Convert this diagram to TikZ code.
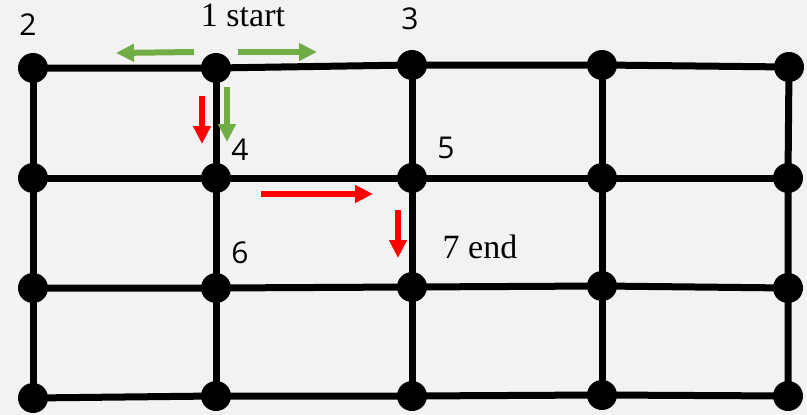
\documentclass[tikz,border=0pt]{standalone}
\usepackage{fontspec}
\setmainfont{Liberation Serif}
\newfontfamily\labelfont{Open Sans}
\usetikzlibrary{arrows.meta}

\definecolor{bggray}{HTML}{F2F2F2}
\definecolor{stepgreen}{HTML}{70AD47}
\definecolor{stepred}{HTML}{FF0000}

\begin{document}
\begin{tikzpicture}[
    x=1pt, y=-1pt,
    dot/.style={circle, fill=black, inner sep=0pt, minimum size=30pt},
    gridline/.style={line width=7pt, black},
    numlabel/.style={font=\labelfont\fontsize{30}{36}\selectfont, anchor=base, inner sep=0pt},
    textlabel/.style={font=\fontsize{34}{40}\selectfont, anchor=base, inner sep=0pt},
    move/.style={line width=6pt, -{Triangle[length=18pt, width=17pt]}},
    greenmove/.style={move, stepgreen},
    redmove/.style={move, stepred}
]
\fill[bggray] (0,0) rectangle (807,415);
\useasboundingbox (0,0) rectangle (807,415);

% grid dots, named d<column><row>
\node[dot] (d11) at (33,68) {};
\node[dot] (d21) at (216,68) {};
\node[dot] (d31) at (412,65) {};
\node[dot] (d41) at (602,65) {};
\node[dot] (d51) at (789,67) {};
\node[dot] (d12) at (33,178) {};
\node[dot] (d22) at (216,178) {};
\node[dot] (d32) at (412,178) {};
\node[dot] (d42) at (602,178) {};
\node[dot] (d52) at (788,178) {};
\node[dot] (d13) at (33,288) {};
\node[dot] (d23) at (216,288) {};
\node[dot] (d33) at (412,287) {};
\node[dot] (d43) at (602,286) {};
\node[dot] (d53) at (788,288) {};
\node[dot] (d14) at (33,398) {};
\node[dot] (d24) at (216,396) {};
\node[dot] (d34) at (412,396) {};
\node[dot] (d44) at (602,395) {};
\node[dot] (d54) at (788,396) {};

% grid lines: rows
\draw[gridline] (d11.center) -- (d21.center) -- (d31.center) -- (d41.center) -- (d51.center);
\draw[gridline] (d12.center) -- (d22.center) -- (d32.center) -- (d42.center) -- (d52.center);
\draw[gridline] (d13.center) -- (d23.center) -- (d33.center) -- (d43.center) -- (d53.center);
\draw[gridline] (d14.center) -- (d24.center) -- (d34.center) -- (d44.center) -- (d54.center);
% grid lines: columns
\draw[gridline] (d11.center) -- (d12.center) -- (d13.center) -- (d14.center);
\draw[gridline] (d21.center) -- (d22.center) -- (d23.center) -- (d24.center);
\draw[gridline] (d31.center) -- (d32.center) -- (d33.center) -- (d34.center);
\draw[gridline] (d41.center) -- (d42.center) -- (d43.center) -- (d44.center);
\draw[gridline] (d51.center) -- (d52.center) -- (d53.center) -- (d54.center);

% labels
\node[numlabel] (n2) at (28,35) {2};
\node[textlabel] (n1) at (243,27) {1 start};
\node[numlabel] (n3) at (410,30) {3};
\node[numlabel] (n4) at (240,160) {4};
\node[numlabel] (n5) at (446,158) {5};
\node[numlabel] (n6) at (240,263) {6};
\node[textlabel] (n7) at (480,258) {7 end};

% moves
\coordinate (gl0) at (194,52);  \coordinate (gl1) at (116,53);
\coordinate (gr0) at (238,52);  \coordinate (gr1) at (317,52);
\coordinate (gd0) at (227,87);  \coordinate (gd1) at (227,142);
\coordinate (rd0) at (202,96);  \coordinate (rd1) at (202,144);
\coordinate (rr0) at (261,194); \coordinate (rr1) at (373,194);
\coordinate (re0) at (398,210); \coordinate (re1) at (398,258);

\draw[greenmove] (gl0) -- (gl1);
\draw[greenmove] (gr0) -- (gr1);
\draw[greenmove] (gd0) -- (gd1);
\draw[redmove] (rd0) -- (rd1);
\draw[redmove] (rr0) -- (rr1);
\draw[redmove] (re0) -- (re1);
\end{tikzpicture}
\end{document}
